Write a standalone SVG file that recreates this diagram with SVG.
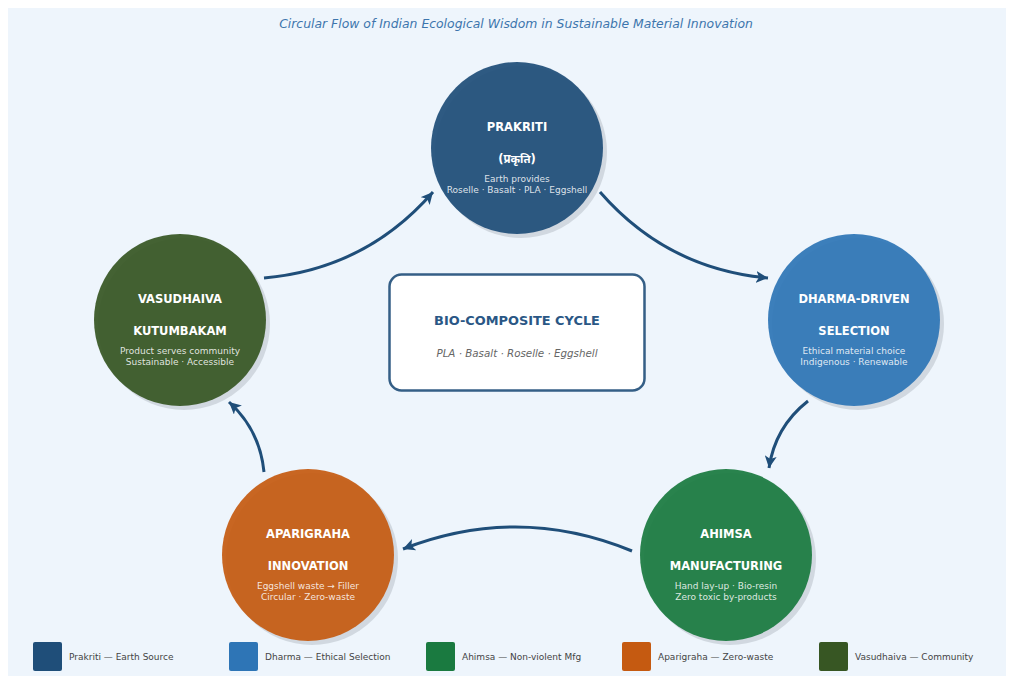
<svg xmlns="http://www.w3.org/2000/svg" width="1014" height="683" viewBox="0 0 1014 683">
<style>
text{font-family:"DejaVu Sans","Noto Sans",sans-serif}
.t{font-size:11.5px;font-weight:bold;fill:#ffffff;text-anchor:middle}
.s{font-size:9px;fill:#ffffff;fill-opacity:0.85;text-anchor:middle}
.sh{fill:#9aa3ad;fill-opacity:0.35}
.c{fill-opacity:0.93}
.lg{font-size:9px;fill:#444444}
.ar{fill:none;stroke:#1f4e79;stroke-width:3;marker-end:url(#ah)}
</style>
<defs>
<marker id="ah" markerUnits="userSpaceOnUse" markerWidth="14" markerHeight="12" refX="12" refY="6" orient="auto">
<path d="M0,0 L12,6 L0,12 L3,6 z" fill="#1f4e79"/>
</marker>
</defs>
<rect x="0" y="0" width="1014" height="683" fill="#ffffff"/>
<rect x="8" y="8" width="998" height="668" fill="#eef5fc"/>
<text x="516" y="28" text-anchor="middle" font-size="12.4" font-style="italic" fill="#3d75ad">Circular Flow of Indian Ecological Wisdom in Sustainable Material Innovation</text>
<g id="connectors">
<path class="ar" d="M600,192 Q667,269 768,278"/>
<path class="ar" d="M808,401 Q775,427 769,468"/>
<path class="ar" d="M632,551 Q518,504 403,549"/>
<path class="ar" d="M264,472 Q260,430 229,402"/>
<path class="ar" d="M264,278 Q366,269 433,192"/>
</g>
<g id="center">
<rect x="389.5" y="274.5" width="255" height="116" rx="12" fill="#ffffff" stroke="#1f4e79" stroke-width="2.5" stroke-opacity="0.9"/>
<text x="517" y="325" text-anchor="middle" font-size="12.9" font-weight="bold" fill="#2a5785">BIO-COMPOSITE CYCLE</text>
<text x="517" y="357" text-anchor="middle" font-size="10.3" font-style="italic" fill="#666666">PLA · Basalt · Roselle · Eggshell</text>
</g>
<g id="prakriti">
<circle class="sh" cx="521" cy="152" r="86"/>
<circle class="c" cx="517" cy="148" r="86" fill="#1f4e79"/>
<text class="t" x="517" y="131">PRAKRITI</text>
<text class="t" x="517" y="163">(प्रकृति)</text>
<text class="s" x="517" y="181.5">Earth provides</text>
<text class="s" x="517" y="192.5">Roselle · Basalt · PLA · Eggshell</text>
</g>
<g id="dharma">
<circle class="sh" cx="858" cy="324" r="86"/>
<circle class="c" cx="854" cy="320" r="86" fill="#2e75b6"/>
<text class="t" x="854" y="303">DHARMA-DRIVEN</text>
<text class="t" x="854" y="335">SELECTION</text>
<text class="s" x="854" y="353.5">Ethical material choice</text>
<text class="s" x="854" y="364.5">Indigenous · Renewable</text>
</g>
<g id="ahimsa">
<circle class="sh" cx="730" cy="559" r="86"/>
<circle class="c" cx="726" cy="555" r="86" fill="#1a7a40"/>
<text class="t" x="726" y="538">AHIMSA</text>
<text class="t" x="726" y="570">MANUFACTURING</text>
<text class="s" x="726" y="588.5">Hand lay-up · Bio-resin</text>
<text class="s" x="726" y="599.5">Zero toxic by-products</text>
</g>
<g id="aparigraha">
<circle class="sh" cx="312" cy="559" r="86"/>
<circle class="c" cx="308" cy="555" r="86" fill="#c55a11"/>
<text class="t" x="308" y="538">APARIGRAHA</text>
<text class="t" x="308" y="570">INNOVATION</text>
<text class="s" x="308" y="588.5">Eggshell waste → Filler</text>
<text class="s" x="308" y="599.5">Circular · Zero-waste</text>
</g>
<g id="vasudhaiva">
<circle class="sh" cx="184" cy="324" r="86"/>
<circle class="c" cx="180" cy="320" r="86" fill="#375623"/>
<text class="t" x="180" y="303">VASUDHAIVA</text>
<text class="t" x="180" y="335">KUTUMBAKAM</text>
<text class="s" x="180" y="353.5">Product serves community</text>
<text class="s" x="180" y="364.5">Sustainable · Accessible</text>
</g>
<g id="legend">
<rect x="33" y="642" width="29" height="29" rx="2" fill="#1f4e79"/>
<text class="lg" x="69" y="660">Prakriti — Earth Source</text>
<rect x="229" y="642" width="29" height="29" rx="2" fill="#2e75b6"/>
<text class="lg" x="265" y="660">Dharma — Ethical Selection</text>
<rect x="426" y="642" width="29" height="29" rx="2" fill="#1a7a40"/>
<text class="lg" x="462" y="660">Ahimsa — Non-violent Mfg</text>
<rect x="622" y="642" width="29" height="29" rx="2" fill="#c55a11"/>
<text class="lg" x="658" y="660">Aparigraha — Zero-waste</text>
<rect x="819" y="642" width="29" height="29" rx="2" fill="#375623"/>
<text class="lg" x="855" y="660">Vasudhaiva — Community</text>
</g>
</svg>
